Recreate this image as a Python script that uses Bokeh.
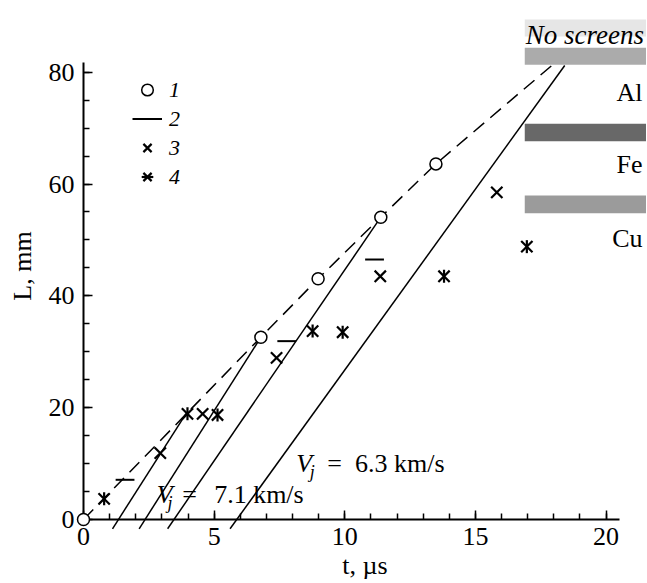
from bokeh.plotting import figure
from bokeh.models import (Range1d, Legend, LegendItem, Label, SingleIntervalTicker,
                          ColumnDataSource)
from bokeh.embed import file_html
from bokeh.resources import INLINE

# ---------------- data ----------------
# series 1: open circles (t, L)
s1_t = [0.0, 6.79, 8.98, 11.38, 13.49]
s1_L = [0.0, 32.6, 43.05, 54.07, 63.6]
# dashed curve through the circles, continued to the Al screen
dashed_t = [0.0, 6.79, 8.98, 11.38, 13.49, 17.95]
dashed_L = [0.0, 32.6, 43.05, 54.07, 63.6, 81.3]
# series 2: short horizontal bars
s2_t = [1.59, 7.78, 11.14]
s2_L = [7.1, 31.9, 46.5]
# series 3: crosses
s3_t = [2.94, 4.56, 7.39, 11.36, 15.82]
s3_L = [11.86, 18.9, 28.9, 43.5, 58.5]
# series 4: asterisks
s4_t = [0.79, 3.98, 5.13, 8.77, 9.92, 13.8, 16.97]
s4_L = [3.7, 18.9, 18.7, 33.7, 33.5, 43.5, 48.8]
# jet lines (start and end points)
jet_t0 = [1.11, 2.13, 3.22, 5.61]
jet_L0 = [-1.66, -1.66, -1.66, -1.66]
jet_t1 = [3.95, 6.79, 11.38, 18.42]
jet_L1 = [19.1, 32.6, 54.07, 81.2]
# screens
screen_names = ["Al", "Fe", "Cu"]
screen_bottom = [81.33, 67.66, 54.78]
screen_top = [84.37, 70.77, 57.95]
screen_colors = ["#ababab", "#686868", "#9b9b9b"]
screen_text_L = [76.4, 63.44, 50.2]
x_ticks_step = 5
y_ticks_step = 20

SERIF = "Liberation Serif"
BAR_HALF = 0.36

p = figure(frame_width=563, frame_height=507,
           x_range=Range1d(0, 21.55), y_range=Range1d(0, 90.68),
           output_backend="svg", toolbar_location=None,
           min_border_left=83, min_border_right=0, min_border_top=12,
           min_border_bottom=60, background_fill_color="white",
           border_fill_color="white")
p.outline_line_color = None
p.xgrid.visible = False
p.ygrid.visible = False

# screens
p.quad(left=[16.89] * 4, right=[21.55] * 4,
       bottom=[86.4] + screen_bottom, top=[89.45] + screen_top,
       fill_color=["#e6e6e6"] + screen_colors, line_color=None)

# dashed curve
p.line(dashed_t, dashed_L, line_color="black", line_width=1.5, line_dash="14 8")

# jet lines
p.segment(x0=jet_t0, y0=jet_L0, x1=jet_t1, y1=jet_L1, line_color="black",
          line_width=1.5, level="overlay")

# series markers
src2 = ColumnDataSource(dict(x0=[t - BAR_HALF for t in s2_t], x1=[t + BAR_HALF for t in s2_t],
                             y=s2_L))
r2 = p.segment(x0="x0", x1="x1", y0="y", y1="y", source=src2, line_color="black",
               line_width=2, level="overlay")
r3 = p.scatter(s3_t, s3_L, marker="x", size=16, line_color="black", line_width=2.2,
               level="overlay")
r4a = p.scatter(s4_t, s4_L, marker="x", size=16, line_color="black", line_width=2.2,
                level="overlay")
r4b = p.scatter(s4_t, s4_L, marker="dash", angle=1.5708, size=13, line_color="black",
                line_width=2.2, level="overlay")
r1 = p.scatter(s1_t, s1_L, marker="circle", size=12, fill_color="white",
               line_color="black", line_width=1.5, level="overlay")

# axes
for ax, step, nminor, lab in ((p.xaxis[0], x_ticks_step, 5, "t, µs"),
                              (p.yaxis[0], y_ticks_step, 4, "L, mm")):
    ax.ticker = SingleIntervalTicker(interval=step, num_minor_ticks=nminor)
    ax.axis_label = lab
    ax.axis_line_width = 2
    ax.axis_line_color = "black"
    ax.major_tick_in = 9
    ax.major_tick_out = 0
    ax.minor_tick_in = 6
    ax.minor_tick_out = 0
    ax.major_tick_line_width = 1.5
    ax.minor_tick_line_width = 1.5
    ax.major_tick_line_color = "black"
    ax.minor_tick_line_color = "black"
    ax.major_label_text_font = SERIF
    ax.major_label_text_font_size = "26px"
    ax.major_label_text_color = "black"
    ax.axis_label_text_font = SERIF
    ax.axis_label_text_font_size = "26px"
    ax.axis_label_text_font_style = "normal"
    ax.axis_label_text_color = "black"
p.xaxis.bounds = (0, 20.5)
p.yaxis.bounds = (0, 81.8)
p.xaxis.major_label_standoff = 8
p.xaxis.axis_label_standoff = 3
p.yaxis.major_label_standoff = 9
p.yaxis.axis_label_standoff = 9

# legend
legend = Legend(items=[LegendItem(label="1", renderers=[r1]),
                       LegendItem(label="2", renderers=[r2]),
                       LegendItem(label="3", renderers=[r3]),
                       LegendItem(label="4", renderers=[r4a, r4b])],
                location=(49, 328), padding=0, margin=0, spacing=0,
                glyph_width=30, glyph_height=29, label_standoff=7,
                label_text_font=SERIF, label_text_font_size="22px",
                label_text_font_style="italic", label_text_color="black",
                border_line_alpha=0, background_fill_alpha=0)
p.add_layout(legend)

# screen labels
p.add_layout(Label(x=21.45, y=86.57, text="No screens", text_align="right",
                   text_baseline="alphabetic", text_font=SERIF, text_font_size="27px",
                   text_font_style="italic", text_color="black"))
for name, yy in zip(screen_names, screen_text_L):
    p.add_layout(Label(x=21.4, y=yy, text=name, text_align="right",
                       text_baseline="alphabetic", text_font=SERIF,
                       text_font_size="26px", text_color="black"))


def vj_label(tv, Lb, tj, Lj, teq, tnum, num):
    p.add_layout(Label(x=tv, y=Lb, text="V", text_baseline="alphabetic", text_font=SERIF,
                       text_font_size="26px", text_font_style="italic", text_color="black"))
    p.add_layout(Label(x=tj, y=Lj, text="j", text_baseline="alphabetic", text_font=SERIF,
                       text_font_size="18px", text_font_style="italic", text_color="black"))
    p.add_layout(Label(x=teq, y=Lb, text="=", text_baseline="alphabetic", text_font=SERIF,
                       text_font_size="26px", text_color="black"))
    p.add_layout(Label(x=tnum, y=Lb, text=num, text_baseline="alphabetic", text_font=SERIF,
                       text_font_size="26px", text_color="black"))


vj_label(2.8, 4.4, 3.22, 3.0, 3.78, 5.0, "7.1 km/s")
vj_label(8.14, 9.96, 8.66, 8.5, 9.33, 10.39, "6.3 km/s")

open("out.html", "w").write(file_html(p, INLINE))
